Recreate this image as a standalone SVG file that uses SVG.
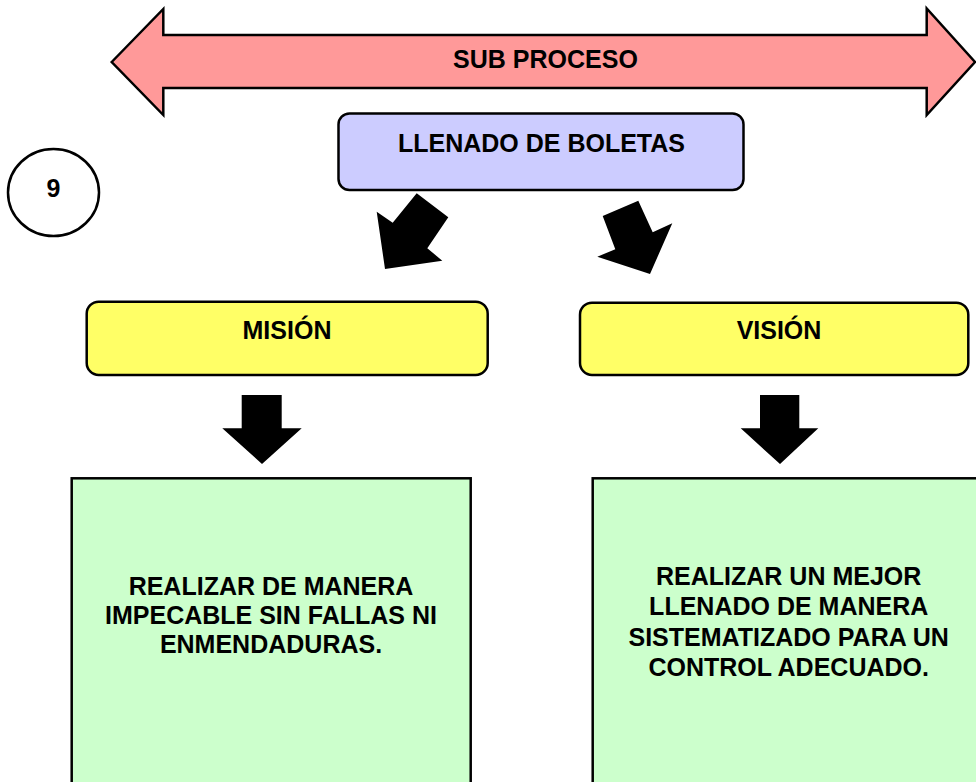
<svg xmlns="http://www.w3.org/2000/svg" width="976" height="782" viewBox="0 0 976 782">
<style>
.t{font-family:"Liberation Sans",Arial,sans-serif;font-weight:bold;font-size:25px;fill:#000;text-anchor:middle}
.s{stroke:#000;stroke-width:2.5;stroke-linejoin:miter}
.blk{fill:#000;stroke:none}
</style>
<rect width="976" height="782" fill="#fff"/>
<g id="subproceso">
<polygon class="s" fill="#FF9999" points="111.7,62 163.3,9 163.3,35 926.7,35 926.7,8.5 975,62 926.7,115 926.7,88 163.3,88 163.3,115"/>
<text class="t" x="545.5" y="68">SUB PROCESO</text>
</g>
<g id="numero">
<ellipse class="s" fill="#fff" cx="53.5" cy="192.5" rx="45.5" ry="43.5"/>
<text class="t" x="53.5" y="197">9</text>
</g>
<g id="llenado">
<rect class="s" fill="#CCCCFF" x="338.5" y="113.5" width="405" height="76.5" rx="11"/>
<text class="t" x="541.5" y="152">LLENADO DE BOLETAS</text>
</g>
<g id="mision">
<rect class="s" fill="#FFFF66" x="86.7" y="301.7" width="401" height="73.3" rx="12"/>
<text class="t" x="287" y="339">MISIÓN</text>
</g>
<g id="vision">
<rect class="s" fill="#FFFF66" x="580" y="302.7" width="388.3" height="72.3" rx="12"/>
<text class="t" x="779" y="339">VISIÓN</text>
</g>
<g id="mision-texto">
<rect class="s" fill="#CCFFCC" x="71.7" y="478.3" width="399" height="310"/>
<text class="t" x="271" y="595">REALIZAR DE MANERA</text>
<text class="t" x="271" y="624">IMPECABLE SIN FALLAS NI</text>
<text class="t" x="271" y="653">ENMENDADURAS.</text>
</g>
<g id="vision-texto">
<rect class="s" fill="#CCFFCC" x="592.7" y="478.3" width="392" height="310"/>
<text class="t" x="788.7" y="584.5">REALIZAR UN MEJOR</text>
<text class="t" x="788.7" y="615">LLENADO DE MANERA</text>
<text class="t" x="788.7" y="645.5">SISTEMATIZADO PARA UN</text>
<text class="t" x="788.7" y="676">CONTROL ADECUADO.</text>
</g>
<g id="connectors">
<polygon class="blk" points="385,269 376.7,211.7 392.7,222.7 416.7,193.3 448.3,217.3 427.3,248.3 442.3,260.7"/>
<polygon class="blk" points="602.7,216 638.3,200.7 652.7,232.3 672.3,223.3 650,274 597.3,256.7 615.3,249.3"/>
<polygon class="blk" points="241.7,395 281.7,395 281.7,428.3 301.7,428.3 262,464 222.3,428.3 241.7,428.3"/>
<polygon class="blk" points="760,395 799.3,395 799.3,428.3 818.3,428.3 780,464 740.7,428.3 760,428.3"/>
</g>
</svg>
